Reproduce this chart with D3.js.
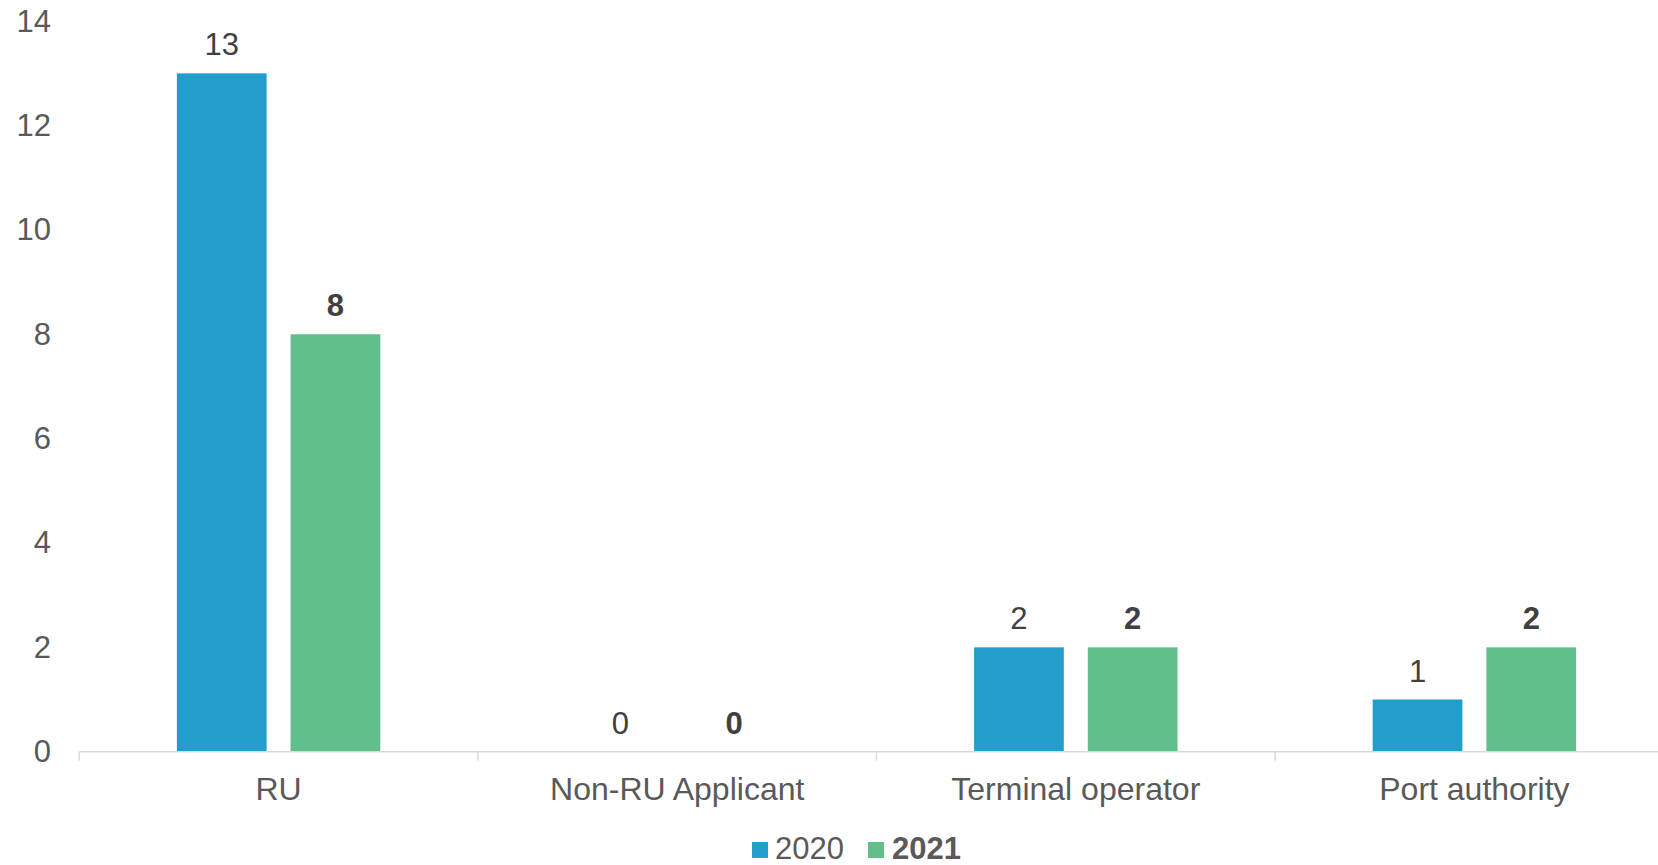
<!DOCTYPE html>
<html>
<head>
<meta charset="utf-8">
<script src="https://cdn.jsdelivr.net/npm/d3@7"></script>
<style>
  html, body { margin: 0; padding: 0; background: #fff; }
  svg { display: block; font-family: "Liberation Sans", Arial, sans-serif; }
</style>
</head>
<body>
<svg id="chart" width="1658" height="865"></svg>
<script>
// Chart data
const categories = ["RU", "Non-RU Applicant", "Terminal operator", "Port authority"];
const seriesNames = ["2020", "2021"];
const values2020 = [13, 0, 2, 1];
const values2021 = [8, 0, 2, 2];
const yTicks = [0, 2, 4, 6, 8, 10, 12, 14];

const colors = { "2020": "#239dcc", "2021": "#62bf8b" };
const bold = { "2020": false, "2021": true };

const svg = d3.select("#chart");

const baseY = 751.7;
const topY = baseY - 14 * 52.18;
const left = 79.3;
const step = 398.6;

const y = d3.scaleLinear().domain([0, 14]).range([baseY, topY]);
const x = d3.scaleBand().domain(categories).range([left, left + step * categories.length]).padding(0);
const xs = d3.scaleBand().domain(seriesNames).range([0, x.bandwidth()])
  .paddingInner(0.211).paddingOuter(0.858);

const rows = categories.map((c, i) => ({ cat: c, vals: [
  { s: "2020", v: values2020[i] },
  { s: "2021", v: values2021[i] }
]}));

// Bars
const groups = svg.append("g").selectAll("g").data(rows).join("g")
  .attr("transform", d => `translate(${x(d.cat)},0)`);

groups.selectAll("rect").data(d => d.vals).join("rect")
  .attr("x", d => xs(d.s))
  .attr("width", xs.bandwidth())
  .attr("y", d => y(d.v))
  .attr("height", d => y(0) - y(d.v))
  .attr("fill", d => colors[d.s]);

// Value labels
groups.selectAll("text").data(d => d.vals).join("text")
  .attr("x", d => xs(d.s) + xs.bandwidth() / 2)
  .attr("y", d => y(d.v) - 18)
  .attr("text-anchor", "middle")
  .attr("font-size", 31)
  .attr("font-weight", d => bold[d.s] ? "bold" : "normal")
  .attr("fill", "#404040")
  .text(d => d.v);

// Y axis labels (no axis line)
const yAxis = d3.axisLeft(y).tickValues(yTicks).tickSize(0).tickPadding(0);
const yg = svg.append("g").attr("transform", "translate(51,0)").call(yAxis);
yg.select(".domain").remove();
yg.selectAll("text")
  .attr("font-size", 31)
  .attr("font-family", "Liberation Sans, Arial, sans-serif")
  .attr("fill", "#595959");

// X axis with category boundary ticks
const xg = svg.append("g").attr("transform", `translate(0,${baseY})`);
xg.append("line")
  .attr("x1", left).attr("x2", left + step * categories.length)
  .attr("y1", 0).attr("y2", 0)
  .attr("stroke", "#d9d9d9").attr("stroke-width", 1.5);
const boundaries = categories.map(c => x(c)).concat([left + step * categories.length]);
xg.selectAll("line.tick").data(boundaries).join("line")
  .attr("class", "tick")
  .attr("x1", d => d).attr("x2", d => d)
  .attr("y1", 0).attr("y2", 9)
  .attr("stroke", "#d9d9d9").attr("stroke-width", 1.5);
xg.selectAll("text").data(categories).join("text")
  .attr("x", d => x(d) + x.bandwidth() / 2)
  .attr("y", 48)
  .attr("text-anchor", "middle")
  .attr("font-size", 32)
  .attr("fill", "#595959")
  .text(d => d);

// Legend
const legend = svg.append("g");
const legendItems = [
  { s: "2020", sx: 752, tx: 775 },
  { s: "2021", sx: 868, tx: 892 }
];
legend.selectAll("rect").data(legendItems).join("rect")
  .attr("x", d => d.sx).attr("y", 842)
  .attr("width", 16).attr("height", 16)
  .attr("fill", d => colors[d.s]);
legend.selectAll("text").data(legendItems).join("text")
  .attr("x", d => d.tx).attr("y", 859)
  .attr("font-size", 31)
  .attr("font-weight", d => bold[d.s] ? "bold" : "normal")
  .attr("fill", "#595959")
  .text(d => d.s);
</script>
</body>
</html>
